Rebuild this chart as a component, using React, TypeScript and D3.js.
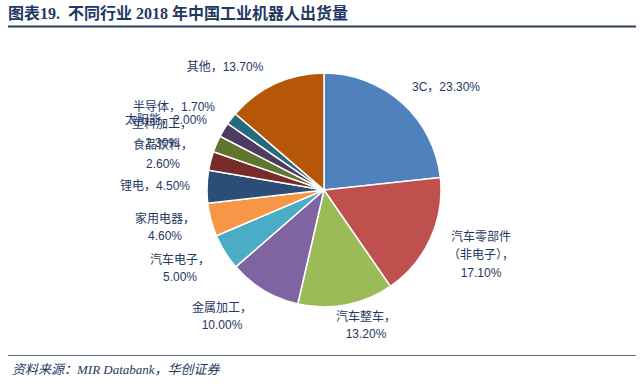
import React from "react";
import * as d3 from "d3";

// 2018 China industrial robot shipments by industry (%)
const categories = [
  "3C",
  "汽车零部件（非电子）",
  "汽车整车",
  "金属加工",
  "汽车电子",
  "家用电器",
  "锂电",
  "食品饮料",
  "塑料加工",
  "太阳能",
  "半导体",
  "其他",
];
const shares = [23.3, 17.1, 13.2, 10.0, 5.0, 4.6, 4.5, 2.6, 2.3, 2.0, 1.7, 13.7];
const labelLines = [
  ["3C，23.30%"],
  ["汽车零部件", "（非电子），", "17.10%"],
  ["汽车整车，", "13.20%"],
  ["金属加工，", "10.00%"],
  ["汽车电子，", "5.00%"],
  ["家用电器，", "4.60%"],
  ["锂电，4.50%"],
  ["食品饮料，", "2.60%"],
  ["塑料加工，", "2.30%"],
  ["太阳能，2.00%"],
  ["半导体，1.70%"],
  ["其他，13.70%"],
];

const colors = [
  "#4F81BD", "#C0504D", "#9BBB59", "#8064A2", "#4BACC6", "#F79646",
  "#2C4D75", "#772C2A", "#5F7530", "#4D3B62", "#276A7C", "#B65708",
];

// label anchor (centre of first line) and line step, layout only
const labelPos: [number, number, number][] = [
  [446, 88, 17],
  [481, 238, 18],
  [366, 318, 17],
  [222, 309, 17],
  [180, 261, 17],
  [165, 220, 17],
  [155, 187, 17],
  [163, 146, 19],
  [162, 125, 19],
  [166, 121, 17],
  [174, 108, 17],
  [225, 68, 17],
];

const W = 640;
const H = 392;
const cx = 324;
const cy = 190;
const radius = 117;

const App: React.FC = () => {
  const data = categories.map((c, i) => ({ name: c, value: shares[i], i }));
  const pie = d3
    .pie<{ name: string; value: number; i: number }>()
    .sort(null)
    .value((d) => d.value)
    .startAngle(0)
    .endAngle(2 * Math.PI);
  const arc = d3
    .arc<d3.PieArcDatum<{ name: string; value: number; i: number }>>()
    .innerRadius(0)
    .outerRadius(radius);
  const arcs = pie(data);

  const labelFont = "'Liberation Sans', 'Noto Sans CJK SC', sans-serif";

  return (
    <svg
      width={W}
      height={H}
      style={{ position: "absolute", left: 0, top: 0, background: "#fff" }}
    >
      <text
        x={8}
        y={19}
        fill="#1F3864"
        fontSize={16}
        fontWeight="bold"
        fontFamily="'Liberation Serif', 'Noto Sans CJK SC', serif"
        style={{ whiteSpace: "pre" }}
      >
        {"图表19.\u00a0\u00a0不同行业 2018 年中国工业机器人出货量"}
      </text>
      <line x1={8} x2={636} y1={26.5} y2={26.5} stroke="#2D4159" strokeWidth={2} />

      <g transform={`translate(${cx},${cy})`}>
        {arcs.map((a) => (
          <path
            key={a.data.name}
            d={arc(a) || ""}
            fill={colors[a.data.i]}
            stroke="#fff"
            strokeWidth={1.5}
          />
        ))}
      </g>

      {labelLines.map((lines, i) => (
        <text
          key={categories[i]}
          fill="#1F3864"
          fontSize={12}
          fontFamily={labelFont}
          textAnchor="middle"
          dominantBaseline="middle"
        >
          {lines.map((l, j) => (
            <tspan key={j} x={labelPos[i][0]} y={labelPos[i][1] + j * labelPos[i][2]}>
              {l}
            </tspan>
          ))}
        </text>
      ))}

      <line x1={8} x2={636} y1={355.5} y2={355.5} stroke="#5A6B80" strokeWidth={1} />
      <text
        x={12}
        y={374}
        fill="#1F3864"
        fontSize={13}
        fontStyle="italic"
        fontFamily="'Liberation Serif', 'Noto Sans CJK SC', serif"
      >
        资料来源：MIR Databank，华创证券
      </text>
    </svg>
  );
};

export default App;
